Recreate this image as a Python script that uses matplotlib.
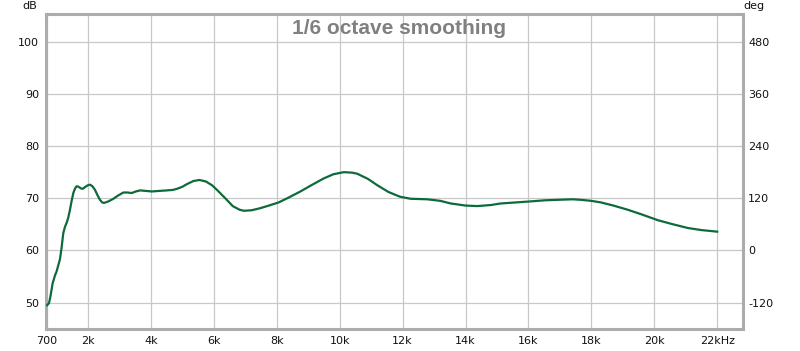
import matplotlib.pyplot as plt

# frequency (Hz) and SPL (dB)
freq = [700, 760, 800, 876, 950, 1003, 1108, 1160, 1214, 1267, 1321, 1373,
        1427, 1480, 1533, 1590, 1640, 1700, 1770, 1830, 1920, 2000, 2064,
        2140, 2223, 2300, 2380, 2450, 2510, 2650, 2806, 2950, 3124, 3250,
        3390, 3520, 3656, 3850, 4028, 4250, 4505, 4700, 4825, 5000, 5143,
        5350, 5545, 5750, 5940, 6100, 6363, 6600, 6819, 6950, 7200, 7478,
        7750, 8061, 8400, 8752, 9100, 9494, 9800, 10131, 10400, 10557, 10900,
        11194, 11550, 11914, 12255, 12786, 13200, 13528, 14000, 14378, 14800,
        15120, 15600, 16076, 16500, 16926, 17400, 17668, 18000, 18304, 18700,
        19155, 19600, 20110, 20600, 21066, 21500, 22000]
spl = [49.5, 49.9, 51.0, 53.7, 55.2, 56.0, 58.3, 60.5, 63.3, 64.5, 65.3, 66.3,
       67.8, 69.5, 71.0, 71.9, 72.3, 72.2, 71.9, 71.8, 72.2, 72.5, 72.6,
       72.3, 71.6, 70.6, 69.7, 69.2, 69.1, 69.4, 69.9, 70.5, 71.1, 71.1,
       71.0, 71.3, 71.5, 71.4, 71.3, 71.4, 71.5, 71.6, 71.8, 72.2, 72.7,
       73.3, 73.5, 73.2, 72.5, 71.6, 70.0, 68.5, 67.8, 67.6, 67.7, 68.1,
       68.6, 69.2, 70.2, 71.3, 72.5, 73.8, 74.6, 75.0, 74.9, 74.7, 73.7,
       72.5, 71.2, 70.3, 69.9, 69.8, 69.5, 69.0, 68.6, 68.5, 68.7,
       69.0, 69.2, 69.4, 69.6, 69.7, 69.8, 69.7, 69.5, 69.2, 68.6,
       67.8, 66.9, 65.8, 65.0, 64.3, 63.9, 63.6]

xticks = [700, 2000, 4000, 6000, 8000, 10000, 12000, 14000, 16000, 18000, 20000, 22000]
xlabels = ["700", "2k", "4k", "6k", "8k", "10k", "12k", "14k", "16k", "18k", "20k", "22kHz"]
yticks = [50, 60, 70, 80, 90, 100]
deg_labels = ["-120", "0", "120", "240", "360", "480"]

plt.rcParams['font.family'] = ['DejaVu Sans']

fig = plt.figure(figsize=(8, 3.51), dpi=100)
ax = fig.add_axes([46 / 800, 1 - 329 / 351, (742.7 - 46) / 800, (329 - 14) / 351])

ax.plot(freq, spl, color="#0d6b3a", linewidth=1.6, zorder=3)

ax.set_xlim(665, 22810)
ax.set_ylim(44.95, 105.3)
ax.set_xticks(xticks)
ax.set_xticklabels(xlabels)
ax.set_yticks(yticks)
ax.grid(True, color="#c8c8c8", linewidth=0.9)
ax.tick_params(length=0, labelsize=8, colors="#111111", pad=5)

for s in ax.spines.values():
    s.set_color("#acacac")
    s.set_linewidth(2.2)

ax2 = ax.twinx()
ax2.set_ylim(ax.get_ylim())
ax2.set_yticks(yticks)
ax2.set_yticklabels(deg_labels)
ax2.tick_params(length=0, labelsize=8, colors="#111111", pad=4)
for s in ax2.spines.values():
    s.set_visible(False)

fig.text(30 / 800, 1 - 6 / 351, "dB", fontsize=8, ha="center", va="center", color="#111111")
fig.text(754 / 800, 1 - 6 / 351, "deg", fontsize=8, ha="center", va="center", color="#111111")

fig.text(399.5 / 800, 1 - 34 / 351, "1/6 octave smoothing", ha="center", va="baseline",
         fontsize=15, fontweight="bold", color="#808080", family="Liberation Sans")

fig.savefig("out.png", dpi=100)
